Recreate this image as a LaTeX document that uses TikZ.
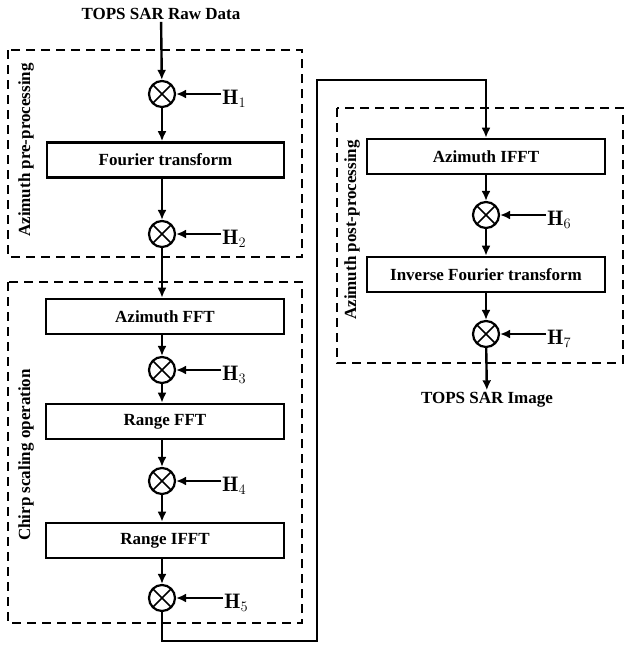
\documentclass[tikz,border=0pt]{standalone}
\usepackage{fontspec}
\usepackage{amsmath}
\usepackage{tikz}
\usetikzlibrary{arrows.meta}
\newfontfamily\tnr{Liberation Serif}
\newcommand{\Hk}[1]{$\mathbf{H}_{#1}$}

\begin{document}
\begin{tikzpicture}[x=1pt,y=-1pt,>={Latex[length=10pt,width=9pt]},
    txt/.style={font=\tnr\bfseries\fontsize{17}{20}\selectfont,inner sep=2pt},
    block/.style={txt,draw,line width=2.6pt,minimum height=35pt},
    mult/.style={circle,draw,line width=2.2pt,minimum size=26pt,inner sep=0pt,
      path picture={\draw[line width=1.5pt]
        (path picture bounding box.north west) -- (path picture bounding box.south east)
        (path picture bounding box.south west) -- (path picture bounding box.north east);}},
    gain/.style={font=\fontsize{21}{24}\selectfont,inner sep=1pt,anchor=base west},
    arr/.style={->,line width=2.4pt},
    dashbox/.style={line width=2.8pt,dash pattern=on 9pt off 6pt},
    grp/.style={txt,rotate=90}]
    \useasboundingbox (0,0) rectangle (625,648);
    % dashed stages
    \draw[dashbox] (8,50) rectangle (302,257);
    \draw[dashbox] (8,282) rectangle (302,623);
    \draw[dashbox] (337,108) rectangle (623,363);
    \node[grp] (pre) at (26,150) {Azimuth pre-processing};
    \node[grp] (csa) at (26,455) {Chirp scaling operation};
    \node[grp] (post) at (352,230) {Azimuth post-processing};
    % left column
    \node[txt] (raw) at (161,14) {TOPS SAR Raw Data};
    \node[mult] (m1) at (162,94) {};
    \node[block,minimum width=237pt] (ft) at (165.5,160) {Fourier transform};
    \node[mult] (m2) at (162,234) {};
    \node[block,minimum width=238pt] (afft) at (165,316.5) {Azimuth FFT};
    \node[mult] (m3) at (162,370) {};
    \node[block,minimum width=238pt] (rfft) at (165,421.5) {Range FFT};
    \node[mult] (m4) at (162,481) {};
    \node[block,minimum width=238pt] (rifft) at (165,540.5) {Range IFFT};
    \node[mult] (m5) at (162,598) {};
    % right column
    \node[block,minimum width=238pt] (aifft) at (486,156.5) {Azimuth IFFT};
    \node[mult] (m6) at (486,215) {};
    \node[block,minimum width=238pt] (ift) at (486,274.5) {Inverse Fourier transform};
    \node[mult] (m7) at (486,334) {};
    \node[txt] (img) at (487,400) {TOPS SAR Image};
    % filters
    \node[gain] (h1) at (221,104) {\Hk{1}};
    \node[gain] (h2) at (221,244) {\Hk{2}};
    \node[gain] (h3) at (221,380) {\Hk{3}};
    \node[gain] (h4) at (221,491) {\Hk{4}};
    \node[gain] (h5) at (223,608) {\Hk{5}};
    \node[gain] (h6) at (546,225) {\Hk{6}};
    \node[gain] (h7) at (546,344) {\Hk{7}};
    \foreach \h/\m in {h1/m1,h2/m2,h3/m3,h4/m4,h5/m5,h6/m6,h7/m7}
      \draw[arr] (\h.west |- \m) -- (\m);
    % signal path
    \coordinate (br) at (317,641);
    \coordinate (tr) at (317,80);
    \draw[arr] (raw) -- (m1);
    \draw[arr] (m1) -- (m1 |- ft.north);
    \draw[arr] (m1 |- ft.south) -- (m2);
    \draw[arr] (m2) -- (m2 |- afft.north);
    \draw[arr] (m2 |- afft.south) -- (m3);
    \draw[arr] (m3) -- (m3 |- rfft.north);
    \draw[arr] (m3 |- rfft.south) -- (m4);
    \draw[arr] (m4) -- (m4 |- rifft.north);
    \draw[arr] (m4 |- rifft.south) -- (m5);
    \draw[arr] (m5) -- (m5 |- br) -- (br) -- (tr) -- (tr -| m6) -- (m6 |- aifft.north);
    \draw[arr] (m6 |- aifft.south) -- (m6);
    \draw[arr] (m6) -- (m6 |- ift.north);
    \draw[arr] (m6 |- ift.south) -- (m7);
    \draw[arr] (m7) -- (img);
  \end{tikzpicture}
\end{document}
